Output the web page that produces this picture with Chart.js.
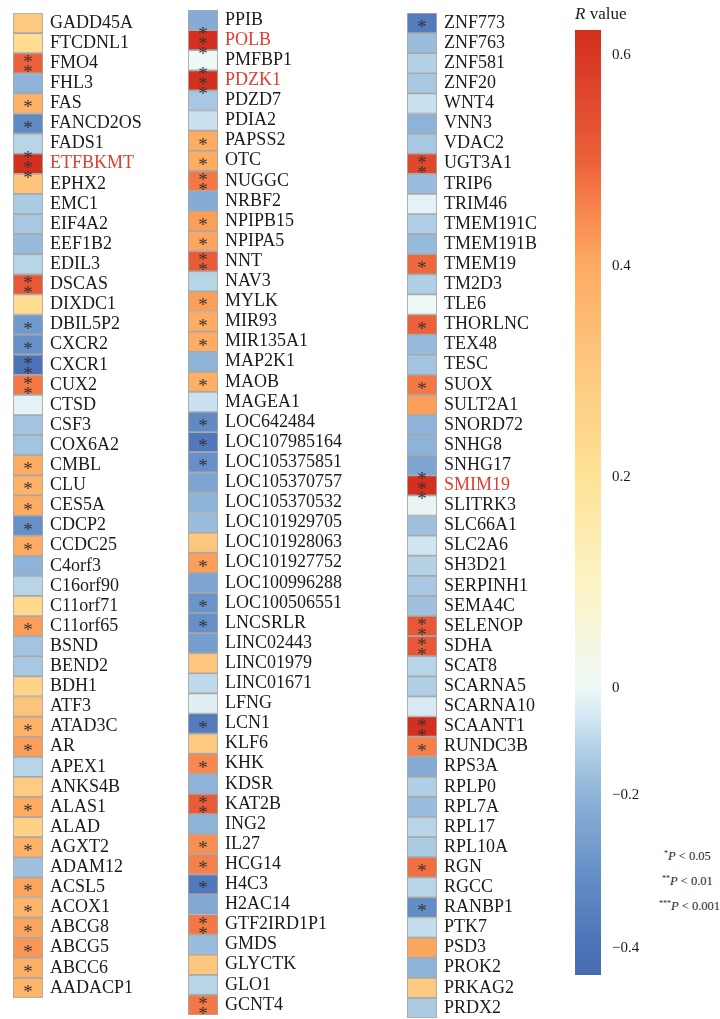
<!DOCTYPE html>
<html>
<head>
<meta charset="utf-8">
<script src="https://cdn.jsdelivr.net/npm/chart.js@4"></script>
<style>
  html, body { margin: 0; padding: 0; background: #fff; }
  body { width: 720px; height: 1019px; position: relative; overflow: hidden;
         font-family: "Liberation Serif", serif; color: #1a1a1a; }
  canvas { position: absolute; }
  .cb-title { position: absolute; left: 575px; top: 4px; font-size: 17px; }
  .pleg { position: absolute; font-size: 12.5px; white-space: nowrap; }
  .pleg sup { font-size: 8px; vertical-align: 4px; }
</style>
</head>
<body>

<canvas id="col1"></canvas>
<canvas id="col2"></canvas>
<canvas id="col3"></canvas>
<canvas id="cbar"></canvas>

<div class="cb-title"><i>R</i> value</div>
<div class="pleg" style="left:664px;top:849px"><sup>*</sup><i>P</i> &lt; 0.05</div>
<div class="pleg" style="left:662px;top:874px"><sup>**</sup><i>P</i> &lt; 0.01</div>
<div class="pleg" style="left:659px;top:899px"><sup>***</sup><i>P</i> &lt; 0.001</div>

<script>
/* ── Data ─────────────────────────────────── */
const genes1 = ['GADD45A','FTCDNL1','FMO4','FHL3','FAS','FANCD2OS','FADS1','ETFBKMT','EPHX2','EMC1',
  'EIF4A2','EEF1B2','EDIL3','DSCAS','DIXDC1','DBIL5P2','CXCR2','CXCR1','CUX2','CTSD',
  'CSF3','COX6A2','CMBL','CLU','CES5A','CDCP2','CCDC25','C4orf3','C16orf90','C11orf71',
  'C11orf65','BSND','BEND2','BDH1','ATF3','ATAD3C','AR','APEX1','ANKS4B','ALAS1',
  'ALAD','AGXT2','ADAM12','ACSL5','ACOX1','ABCG8','ABCG5','ABCC6','AADACP1'];
const rValues1 = [0.30, 0.22, 0.50, -0.20, 0.38, -0.32, -0.10, 0.62, 0.32, -0.13,
  -0.14, -0.18, -0.10, 0.52, 0.22, -0.27, -0.30, -0.40, 0.47, -0.02,
  -0.15, -0.15, 0.40, 0.38, 0.40, -0.30, 0.40, -0.20, -0.10, 0.24,
  0.42, -0.15, -0.14, 0.26, 0.32, 0.38, 0.42, -0.10, 0.29, 0.40,
  0.27, 0.38, -0.16, 0.41, 0.37, 0.41, 0.43, 0.39, 0.37];
const stars1 = [0, 0, 2, 0, 1, 1, 0, 3, 0, 0,
  0, 0, 0, 2, 0, 1, 1, 2, 2, 0,
  0, 0, 1, 1, 1, 1, 1, 0, 0, 0,
  1, 0, 0, 0, 0, 1, 1, 0, 0, 1,
  0, 1, 0, 1, 1, 1, 1, 1, 1];

const genes2 = ['PPIB','POLB','PMFBP1','PDZK1','PDZD7','PDIA2','PAPSS2','OTC','NUGGC','NRBF2',
  'NPIPB15','NPIPA5','NNT','NAV3','MYLK','MIR93','MIR135A1','MAP2K1','MAOB','MAGEA1',
  'LOC642484','LOC107985164','LOC105375851','LOC105370757','LOC105370532','LOC101929705','LOC101928063','LOC101927752','LOC100996288','LOC100506551',
  'LNCSRLR','LINC02443','LINC01979','LINC01671','LFNG','LCN1','KLF6','KHK','KDSR','KAT2B',
  'ING2','IL27','HCG14','H4C3','H2AC14','GTF2IRD1P1','GMDS','GLYCTK','GLO1','GCNT4'];
const rValues2 = [-0.22, 0.62, 0.00, 0.63, -0.14, -0.07, 0.40, 0.40, 0.47, -0.22,
  0.42, 0.41, 0.51, -0.10, 0.42, 0.40, 0.40, -0.20, 0.39, -0.07,
  -0.32, -0.38, -0.30, -0.24, -0.20, -0.17, 0.31, 0.42, -0.24, -0.29,
  -0.30, -0.26, 0.31, -0.09, -0.03, -0.37, 0.30, 0.45, -0.20, 0.51,
  -0.20, 0.44, 0.46, -0.38, -0.23, 0.47, -0.17, 0.31, -0.10, 0.47];
const stars2 = [0, 3, 0, 3, 0, 0, 1, 1, 2, 0,
  1, 1, 2, 0, 1, 1, 1, 0, 1, 0,
  1, 1, 1, 0, 0, 0, 0, 1, 0, 1,
  1, 0, 0, 0, 0, 1, 0, 1, 0, 2,
  0, 1, 1, 1, 0, 2, 0, 0, 0, 2];

const genes3 = ['ZNF773','ZNF763','ZNF581','ZNF20','WNT4','VNN3','VDAC2','UGT3A1','TRIP6','TRIM46',
  'TMEM191C','TMEM191B','TMEM19','TM2D3','TLE6','THORLNC','TEX48','TESC','SUOX','SULT2A1',
  'SNORD72','SNHG8','SNHG17','SMIM19','SLITRK3','SLC66A1','SLC2A6','SH3D21','SERPINH1','SEMA4C',
  'SELENOP','SDHA','SCAT8','SCARNA5','SCARNA10','SCAANT1','RUNDC3B','RPS3A','RPLP0','RPL7A',
  'RPL17','RPL10A','RGN','RGCC','RANBP1','PTK7','PSD3','PROK2','PRKAG2','PRDX2'];
const rValues3 = [-0.37, -0.17, -0.11, -0.14, -0.07, -0.20, -0.14, 0.56, -0.17, -0.02,
  -0.12, -0.18, 0.49, -0.12, 0.00, 0.50, -0.18, -0.15, 0.47, 0.42,
  -0.20, -0.20, -0.24, 0.62, -0.01, -0.16, -0.06, -0.11, -0.14, -0.16,
  0.52, 0.52, -0.10, -0.12, -0.05, 0.62, 0.46, -0.22, -0.12, -0.17,
  -0.10, -0.13, 0.48, -0.10, -0.31, -0.08, 0.41, -0.20, 0.30, -0.13];
const stars3 = [1, 0, 0, 0, 0, 0, 0, 2, 0, 0,
  0, 0, 1, 0, 0, 1, 0, 0, 1, 0,
  0, 0, 0, 3, 0, 0, 0, 0, 0, 0,
  2, 2, 0, 0, 0, 2, 1, 0, 0, 0,
  0, 0, 1, 0, 1, 0, 0, 0, 0, 0];

const highlighted = ['ETFBKMT', 'POLB', 'PDZK1', 'SMIM19'];

const cbarTicks = [0.6, 0.4, 0.2, 0, -0.2, -0.4];

/* ── Colour scale (value → rgb) ───────────── */
const colorStops = [
  [-0.44, [70, 108, 178]],
  [-0.40, [76, 114, 183]],
  [-0.30, [102, 144, 200]],
  [-0.20, [142, 179, 216]],
  [-0.10, [184, 213, 232]],
  [-0.05, [214, 233, 244]],
  [ 0.00, [238, 248, 245]],
  [ 0.10, [252, 243, 196]],
  [ 0.20, [254, 226, 150]],
  [ 0.30, [253, 201, 128]],
  [ 0.40, [253, 172, 98]],
  [ 0.45, [248, 136, 78]],
  [ 0.50, [236, 96, 58]],
  [ 0.62, [211, 48, 32]]
];

function rgbFor(v) {
  if (v <= colorStops[0][0]) return colorStops[0][1];
  for (let i = 1; i < colorStops.length; i++) {
    const [v1, c1] = colorStops[i];
    const [v0, c0] = colorStops[i - 1];
    if (v <= v1) {
      const t = (v - v0) / (v1 - v0);
      return c0.map((c, k) => Math.round(c + (c1[k] - c) * t));
    }
  }
  return colorStops[colorStops.length - 1][1];
}
const colorFor = v => 'rgb(' + rgbFor(v).join(',') + ')';

// colour bar is not linear below zero: piecewise map value → fraction of bar height
const cbarKnots = [[-0.435, 0], [-0.4, 0.0286], [-0.2, 0.1905], [0, 0.3037], [0.624, 1]];
function warp(v) {
  for (let i = 1; i < cbarKnots.length; i++) {
    const [a0, u0] = cbarKnots[i - 1];
    const [a1, u1] = cbarKnots[i];
    if (v <= a1 || i === cbarKnots.length - 1) return u0 + (v - a0) / (a1 - a0) * (u1 - u0);
  }
}

/* ── Asterisk plugin ──────────────────────── */
const starPlugin = {
  id: 'stars',
  afterDatasetsDraw(chart) {
    const stars = chart.options.plugins.stars.counts;
    const ctx = chart.ctx;
    const meta = chart.getDatasetMeta(0);
    ctx.save();
    ctx.fillStyle = '#333';
    ctx.font = '19px "Liberation Serif"';
    ctx.textAlign = 'center';
    ctx.textBaseline = 'alphabetic';
    meta.data.forEach((bar, i) => {
      const n = stars[i];
      if (!n) return;
      const cx = (bar.x + bar.base) / 2;
      for (let k = 0; k < n; k++) {
        const cy = bar.y + (k - (n - 1) / 2) * 10;
        ctx.fillText('*', cx, cy + 10);
      }
    });
    ctx.restore();
  }
};

/* ── Heat columns ─────────────────────────── */
const CELL_W = 30;
const ROW_H = 20.1;

function heatColumn(id, left, top, width, genes, vals, stars) {
  const el = document.getElementById(id);
  const h = Math.round(genes.length * ROW_H);
  el.width = width;
  el.height = h;
  el.style.left = left + 'px';
  el.style.top = top + 'px';

  new Chart(el, {
    type: 'bar',
    data: {
      labels: genes,
      datasets: [{
        data: genes.map(() => [0, 1]),
        backgroundColor: vals.map(colorFor),
        borderColor: '#a8a8a8',
        borderWidth: 1.2,
        borderSkipped: false,
        barPercentage: 1,
        categoryPercentage: 1
      }]
    },
    options: {
      indexAxis: 'y',
      responsive: false,
      animation: false,
      devicePixelRatio: 1,
      layout: { padding: 0, autoPadding: false },
      plugins: {
        legend: { display: false },
        tooltip: { enabled: false },
        stars: { counts: stars }
      },
      scales: {
        x: { min: 0, max: 1, display: false },
        y: {
          position: 'right',
          grid: { display: false, drawTicks: false },
          border: { display: false },
          afterFit: s => { s.width = width - CELL_W; s.paddingTop = 0; s.paddingBottom = 0; },
          ticks: {
            autoSkip: false,
            padding: 7,
            crossAlign: 'near',
            font: { family: '"Liberation Serif", serif', size: 18 },
            color: c => highlighted.includes(genes[c.index]) ? '#e33b2e' : '#1a1a1a'
          }
        }
      }
    },
    plugins: [starPlugin]
  });
}

heatColumn('col1', 13, 13, 167, genes1, rValues1, stars1);
heatColumn('col2', 188, 10, 217, genes2, rValues2, stars2);
heatColumn('col3', 407, 13, 163, genes3, rValues3, stars3);

/* ── Colour bar ───────────────────────────── */
(function () {
  const el = document.getElementById('cbar');
  const W = 80, H = 965;
  el.width = W; el.height = H;
  el.style.left = '575px';
  el.style.top = '20px';

  const fmt = v => v < 0 ? '\u2212' + Math.abs(v) : String(v);

  new Chart(el, {
    type: 'bar',
    data: {
      labels: [''],
      datasets: [{
        data: [[0, 1]],
        borderWidth: 0,
        barPercentage: 1,
        categoryPercentage: 1,
        backgroundColor: c => {
          const area = c.chart.chartArea;
          if (!area) return '#fff';
          const ys = c.chart.scales.y;
          const g = c.chart.ctx.createLinearGradient(0, area.bottom, 0, area.top);
          colorStops.forEach(([v]) => {
            const py = ys.getPixelForValue(Math.max(0, Math.min(1, warp(v))));
            const f = (area.bottom - py) / (area.bottom - area.top);
            g.addColorStop(Math.max(0, Math.min(1, f)), colorFor(v));
          });
          return g;
        }
      }]
    },
    options: {
      responsive: false,
      animation: false,
      devicePixelRatio: 1,
      layout: { padding: { top: 10, bottom: 10 }, autoPadding: false },
      plugins: { legend: { display: false }, tooltip: { enabled: false } },
      scales: {
        x: { display: false },
        y: {
          min: 0, max: 1,
          position: 'right',
          grid: { display: false, drawTicks: false },
          border: { display: false },
          afterFit: s => { s.width = W - 26; s.paddingTop = 0; s.paddingBottom = 0; },
          afterBuildTicks: s => { s.ticks = cbarTicks.map(v => ({ value: warp(v) })); },
          ticks: {
            padding: 11,
            crossAlign: 'near',
            font: { family: '"Liberation Serif", serif', size: 15 },
            color: '#1a1a1a',
            callback: (val, i) => fmt(cbarTicks[i])
          }
        }
      }
    }
  });
})();
</script>
</body>
</html>
